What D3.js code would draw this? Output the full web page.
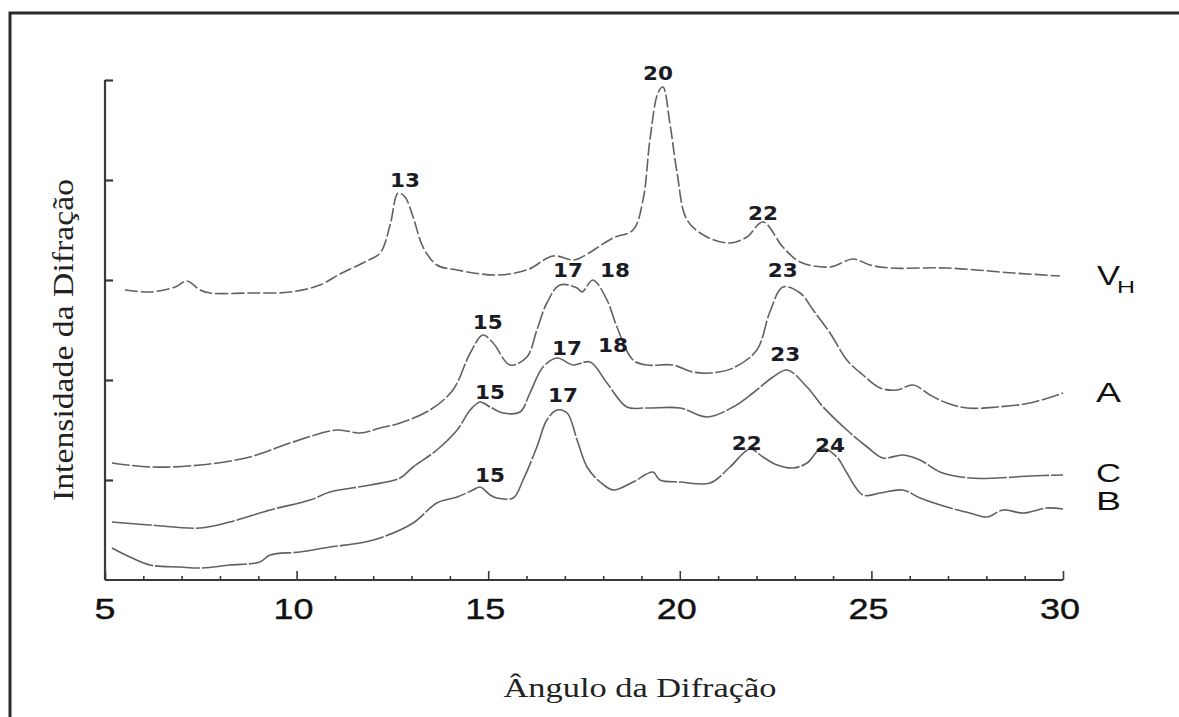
<!DOCTYPE html>
<html>
<head>
<meta charset="utf-8">
<script src="https://cdn.jsdelivr.net/npm/d3@7"></script>
<style>
  html, body { margin: 0; padding: 0; background: #fff; }
  svg { display: block; }
</style>
</head>
<body>
<svg id="chart" width="1179" height="717"></svg>
<script>
// X-ray diffraction patterns of starch polymorphs (V_H, A, C, B)
// angle (2θ) vs. intensity, each trace offset vertically.

const xTicksMajor = [5, 10, 15, 20, 25, 30];
const xTicksMinor = d3.range(5, 31, 1);
const yTicks = [1, 2, 3, 4, 5];

const seriesNames = ["VH", "A", "C", "B"];

const vhAngle = [5.52, 6.17, 6.83, 7.14, 7.48, 7.74, 8.78, 9.83, 10.61, 11.13, 11.78, 12.18, 12.44, 12.65, 12.83, 13.04, 13.30, 13.66, 14.19, 15.20, 16.01, 16.69, 17.21, 17.40, 18.26, 18.78, 19.04, 19.22, 19.43, 19.56, 19.74, 19.93, 20.19, 20.71, 21.31, 21.75, 22.17, 22.69, 23.14, 23.92, 24.52, 24.96, 25.49, 26.97, 28.70, 29.92];
const vhValue = [2.90, 2.88, 2.93, 2.99, 2.90, 2.87, 2.87, 2.88, 2.95, 3.06, 3.18, 3.27, 3.55, 3.87, 3.83, 3.63, 3.33, 3.15, 3.10, 3.05, 3.10, 3.24, 3.20, 3.22, 3.42, 3.50, 3.80, 4.40, 4.87, 4.93, 4.57, 4.07, 3.60, 3.43, 3.37, 3.43, 3.58, 3.33, 3.18, 3.13, 3.21, 3.15, 3.12, 3.12, 3.07, 3.04];

const aAngle = [5.18, 6.17, 7.48, 8.78, 9.83, 11.05, 11.65, 12.18, 12.70, 13.48, 14.08, 14.53, 14.86, 15.13, 15.57, 16.01, 16.27, 16.53, 16.87, 17.32, 17.45, 17.73, 18.10, 18.36, 18.78, 19.14, 19.82, 20.34, 20.79, 21.39, 22.01, 22.35, 22.69, 23.14, 23.48, 23.92, 24.36, 24.78, 25.23, 25.67, 26.09, 26.53, 26.97, 27.50, 28.28, 29.14, 30.00];
const aValue = [1.17, 1.13, 1.15, 1.23, 1.37, 1.50, 1.47, 1.52, 1.57, 1.70, 1.90, 2.27, 2.45, 2.37, 2.15, 2.23, 2.50, 2.77, 2.95, 2.92, 2.88, 3.00, 2.80, 2.53, 2.20, 2.15, 2.15, 2.08, 2.07, 2.12, 2.30, 2.68, 2.93, 2.87, 2.70, 2.47, 2.20, 2.05, 1.92, 1.90, 1.95, 1.85, 1.77, 1.72, 1.73, 1.77, 1.87];

const cAngle = [5.18, 6.17, 7.48, 8.26, 9.31, 10.35, 10.87, 11.92, 12.70, 13.04, 13.66, 14.19, 14.53, 14.79, 15.05, 15.39, 15.83, 16.09, 16.43, 16.80, 17.21, 17.66, 18.10, 18.62, 19.14, 20.01, 20.71, 21.39, 21.91, 22.43, 22.80, 23.32, 23.74, 24.36, 24.89, 25.30, 25.82, 26.27, 26.79, 27.57, 28.28, 29.14, 30.00];
const cValue = [0.58, 0.55, 0.52, 0.58, 0.70, 0.80, 0.88, 0.95, 1.02, 1.13, 1.30, 1.50, 1.70, 1.78, 1.73, 1.67, 1.68, 1.87, 2.13, 2.22, 2.15, 2.18, 1.97, 1.73, 1.72, 1.72, 1.63, 1.73, 1.87, 2.03, 2.10, 1.93, 1.73, 1.50, 1.33, 1.22, 1.25, 1.20, 1.08, 1.02, 1.02, 1.04, 1.05];

const bAngle = [5.18, 5.65, 6.17, 6.96, 7.48, 8.26, 9.04, 9.31, 10.09, 10.87, 11.65, 12.18, 13.04, 13.66, 14.19, 14.60, 14.79, 15.05, 15.23, 15.65, 15.91, 16.27, 16.53, 16.80, 17.06, 17.32, 17.58, 17.92, 18.26, 18.78, 19.30, 19.48, 20.01, 20.79, 21.31, 21.83, 22.17, 22.54, 22.95, 23.32, 23.71, 24.10, 24.36, 24.78, 25.23, 25.82, 26.27, 26.97, 27.57, 28.02, 28.43, 28.96, 29.58, 30.00];
const bValue = [0.32, 0.23, 0.15, 0.13, 0.12, 0.15, 0.18, 0.25, 0.28, 0.33, 0.37, 0.42, 0.57, 0.77, 0.83, 0.90, 0.93, 0.85, 0.82, 0.82, 1.00, 1.33, 1.60, 1.70, 1.67, 1.40, 1.13, 0.98, 0.90, 0.98, 1.08, 1.00, 0.98, 0.97, 1.13, 1.31, 1.23, 1.15, 1.12, 1.17, 1.32, 1.23, 1.07, 0.85, 0.87, 0.90, 0.82, 0.73, 0.67, 0.63, 0.70, 0.67, 0.72, 0.71];

// peak annotations: text, and the (angle, intensity) where the text sits
const peakText  = ["13", "20", "22", "15", "17", "18", "23", "15", "17", "18", "23", "15", "17", "22", "24"];
const peakAngle = [12.83, 19.43, 22.17, 14.99, 17.08, 18.31, 22.69, 15.05, 17.06, 18.26, 22.75, 15.05, 16.95, 21.75, 23.92];
const peakLevel = [3.93, 5.00, 3.60, 2.51, 3.03, 3.03, 3.03, 1.81, 2.25, 2.28, 2.19, 0.98, 1.78, 1.30, 1.28];

const xTitle = "Ângulo da Difração";
const yTitle = "Intensidade da Difração";

const svg = d3.select("#chart");
const W = 1179, H = 717;

svg.append("rect").attr("width", W).attr("height", H).attr("fill", "#fff");

// picture frame (top and left edges)
svg.append("path")
  .attr("d", `M10,${H + 5} L10,13 L${W + 5},13`)
  .attr("fill", "none").attr("stroke", "#2a2a2a").attr("stroke-width", 3);

const x = d3.scaleLinear().domain([5, 30]).range([105, 1063]);
const y = d3.scaleLinear().domain([0, 5]).range([580, 80]);

const ink = "#3a3a3a";

// y axis: line + inward ticks, no labels
const yAxis = d3.axisRight(y).tickValues(yTicks).tickSize(8).tickFormat("");
const gy = svg.append("g").attr("transform", `translate(${x(5)},0)`).call(yAxis);
gy.select(".domain").attr("d", `M0,${y(5)}V${y(0)}`).attr("stroke", ink).attr("stroke-width", 2.2);
gy.selectAll(".tick line").attr("stroke", ink).attr("stroke-width", 2.2);

// x axis: minor ticks every degree, longer ticks at labelled values, pointing up
const gx = svg.append("g").attr("transform", `translate(0,${y(0)})`);
gx.append("g")
  .call(d3.axisTop(x).tickValues(xTicksMinor.filter(v => !xTicksMajor.includes(v))).tickSize(4).tickFormat(""))
  .call(g => g.select(".domain").remove())
  .selectAll(".tick line").attr("stroke", ink).attr("stroke-width", 1.6);
const gxMajor = gx.append("g")
  .call(d3.axisTop(x).tickValues(xTicksMajor).tickSize(9).tickFormat(""));
gxMajor.select(".domain").attr("d", `M${x(5)},0H${x(30)}`).attr("stroke", ink).attr("stroke-width", 2.2);
gxMajor.selectAll(".tick line").attr("stroke", ink).attr("stroke-width", 1.6);

// x tick labels
svg.append("g").selectAll("text")
  .data(xTicksMajor)
  .join("text")
  .attr("x", d => x(d) - (d >= 10 ? 3 : 0))
  .attr("y", 619)
  .attr("text-anchor", "middle")
  .attr("font-family", "'Liberation Sans', Arial, sans-serif")
  .attr("font-size", 30)
  .attr("fill", "#111")
  .attr("stroke", "#111").attr("stroke-width", 0.4)
  .attr("textLength", d => String(d).length === 1 ? 21 : 40)
  .attr("lengthAdjust", "spacingAndGlyphs")
  .text(d => d);

// axis titles
svg.append("text")
  .attr("x", 640).attr("y", 697)
  .attr("text-anchor", "middle")
  .attr("font-family", "'Liberation Serif', 'Times New Roman', serif")
  .attr("font-size", 27)
  .attr("fill", "#222")
  .attr("textLength", 273).attr("lengthAdjust", "spacingAndGlyphs")
  .text(xTitle);

svg.append("text")
  .attr("transform", "translate(73,340) rotate(-90)")
  .attr("text-anchor", "middle")
  .attr("font-family", "'Liberation Serif', 'Times New Roman', serif")
  .attr("font-size", 30)
  .attr("fill", "#222")
  .attr("textLength", 322).attr("lengthAdjust", "spacingAndGlyphs")
  .text(yTitle);

// traces
const traces = [
  { name: seriesNames[0], angle: vhAngle, value: vhValue, dash: "13 3" },
  { name: seriesNames[1], angle: aAngle, value: aValue, dash: "18 2.5" },
  { name: seriesNames[2], angle: cAngle, value: cValue, dash: "40 2" },
  { name: seriesNames[3], angle: bAngle, value: bValue, dash: "45 2" }
];

const line = d3.line()
  .x(d => x(d[0]))
  .y(d => y(d[1]))
  .curve(d3.curveCatmullRom.alpha(0.5));

svg.append("g").selectAll("path")
  .data(traces)
  .join("path")
  .attr("d", t => line(d3.zip(t.angle, t.value)))
  .attr("fill", "none")
  .attr("stroke", "#616161")
  .attr("stroke-width", 1.6)
  .attr("stroke-dasharray", t => t.dash)
  .attr("stroke-linejoin", "round");

// peak annotations
svg.append("g").selectAll("text")
  .data(d3.zip(peakText, peakAngle, peakLevel))
  .join("text")
  .attr("x", d => x(d[1]))
  .attr("y", d => y(d[2]))
  .attr("text-anchor", "middle")
  .attr("font-family", "'DejaVu Sans', Verdana, sans-serif")
  .attr("font-weight", "bold")
  .attr("font-size", 19)
  .attr("fill", "#1b1b26")
  .attr("textLength", 30).attr("lengthAdjust", "spacingAndGlyphs")
  .text(d => d[0]);

// trace names on the right
const nameFont = "'Liberation Sans', Arial, sans-serif";
const vh = svg.append("text")
  .attr("x", 1097).attr("y", 285)
  .attr("font-family", nameFont).attr("font-size", 28).attr("fill", "#111");
vh.append("tspan").attr("textLength", 23).attr("lengthAdjust", "spacingAndGlyphs").text("V");
vh.append("tspan").attr("x", 1117).attr("y", 293).attr("font-size", 16)
  .attr("textLength", 18).attr("lengthAdjust", "spacingAndGlyphs").text("H");

const nameRows = [
  { text: seriesNames[1], base: 402, size: 28 },
  { text: seriesNames[2], base: 482, size: 25 },
  { text: seriesNames[3], base: 510, size: 25 }
];
svg.append("g").selectAll("text")
  .data(nameRows)
  .join("text")
  .attr("x", 1096).attr("y", d => d.base)
  .attr("font-family", nameFont).attr("font-size", d => d.size).attr("fill", "#111")
  .attr("textLength", 25).attr("lengthAdjust", "spacingAndGlyphs")
  .text(d => d.text);
</script>
</body>
</html>
